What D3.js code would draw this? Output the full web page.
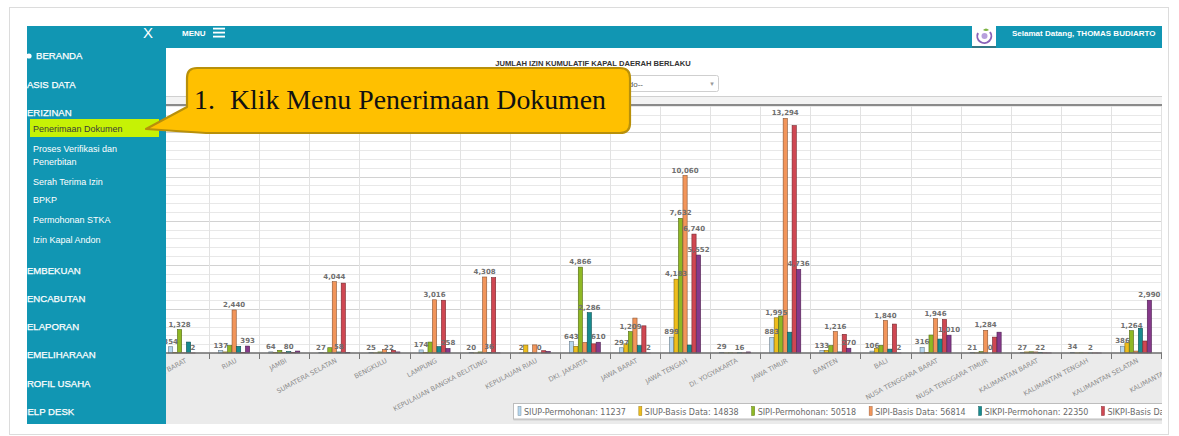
<!DOCTYPE html>
<html>
<head>
<meta charset="utf-8">
<script src="https://cdn.jsdelivr.net/npm/d3@7"></script>
<style>
  body { margin: 0; background: #fff; }
  svg { display: block; }
</style>
</head>
<body>
<script>
var W = 1179, H = 436;

// ---- data ----
var categories = ["SUMATERA BARAT", "RIAU", "JAMBI", "SUMATERA SELATAN", "BENGKULU", "LAMPUNG",
  "KEPULAUAN BANGKA BELITUNG", "KEPULAUAN RIAU", "DKI. JAKARTA", "JAWA BARAT", "JAWA TENGAH",
  "DI. YOGYAKARTA", "JAWA TIMUR", "BANTEN", "BALI", "NUSA TENGGARA BARAT", "NUSA TENGGARA TIMUR",
  "KALIMANTAN BARAT", "KALIMANTAN TENGAH", "KALIMANTAN SELATAN", "KALIMANTAN TIMUR"];

var seriesNames = ["SIUP-Permohonan", "SIUP-Basis Data", "SIPI-Permohonan", "SIPI-Basis Data",
  "SIKPI-Permohonan", "SIKPI-Basis Data", "SIKPI-Lainnya"];
var legendTotals = [11237, 14838, 50518, 56814, 22350, null, null];

var siupPermohonan  = [354, 137, 64, 27, 25, 174, 20, 2, 643, 297, 899, 29, 883, 133, 106, 316, 21, 27, 34, 386, 420];
var siupBasisData   = [40, 60, 20, 10, 10, 40, 5, 450, 380, 520, 4183, 5, 1995, 150, 250, 30, 10, 60, 5, 580, 300];
var sipiPermohonan  = [1328, 420, 150, 300, 60, 620, 60, 10, 4866, 1209, 7632, 10, 2100, 420, 430, 1020, 80, 70, 10, 1264, 900];
var sipiBasisData   = [10, 2440, 30, 4044, 200, 3016, 4308, 460, 600, 1980, 10060, 3, 13294, 1216, 1840, 1946, 1284, 60, 5, 110, 800];
var sikpiPermohonan = [620, 380, 80, 58, 22, 360, 36, 0, 2286, 420, 450, 16, 1180, 60, 220, 790, 0, 22, 2, 1400, 700];
var sikpiBasisData  = [2, 30, 20, 3960, 150, 2990, 4270, 130, 520, 1540, 6740, 8, 12890, 1060, 1640, 1900, 900, 10, 4, 680, 600];
var sikpiLainnya    = [0, 393, 110, 20, 60, 258, 10, 90, 610, 2, 5552, 60, 4736, 270, 2, 1010, 1180, 5, 2, 2990, 500];

// which bars carry a visible point label, per category
var labelled = [[0,2,5],[0,3,6],[0,4],[0,3,4],[0,4],[0,3,6],[0,3,4],[0,4],[0,2,4,6],[0,2,6],
  [0,1,2,3,5,6],[0,4],[0,1,3,6],[0,3,6],[0,3,6],[0,3,6],[0,3,4],[0,4],[0,4],[0,2,6],[]];

var allSeries = [siupPermohonan, siupBasisData, sipiPermohonan, sipiBasisData, sikpiPermohonan, sikpiBasisData, sikpiLainnya];
var colors = ["#b7d8f0", "#eebd1c", "#8fb824", "#f2955a", "#178b8f", "#cf4752", "#86398b"];

var sideMain = [
  { t: "BERANDA", y: 59, bullet: true },
  { t: "BASIS DATA", y: 88 },
  { t: "PERIZINAN", y: 116 },
  { t: "PEMBEKUAN", y: 274 },
  { t: "PENCABUTAN", y: 302 },
  { t: "PELAPORAN", y: 330 },
  { t: "PEMELIHARAAN", y: 358 },
  { t: "PROFIL USAHA", y: 387 },
  { t: "HELP DESK", y: 415 }
];
var sideSub = [
  { t: "Proses Verifikasi dan", y: 152 },
  { t: "Penerbitan", y: 165 },
  { t: "Serah Terima Izin", y: 185 },
  { t: "BPKP", y: 203 },
  { t: "Permohonan STKA", y: 223 },
  { t: "Izin Kapal Andon", y: 243 }
];

var teal = "#1196b3";
var fmt = d3.format(",");

var svg = d3.select("body").append("svg").attr("width", W).attr("height", H);

// slide frame
svg.append("rect").attr("x", 9.5).attr("y", 7.5).attr("width", 1159).attr("height", 427)
  .attr("fill", "#fff").attr("stroke", "#dcdcdc");

// ---- chart area ----
var defs = svg.append("defs");
defs.append("clipPath").attr("id", "chartClip").append("rect")
  .attr("x", 166).attr("y", 48).attr("width", 996).attr("height", 377);
defs.append("clipPath").attr("id", "headClip").append("rect")
  .attr("x", 27).attr("y", 26).attr("width", 1135).attr("height", 22);
defs.append("clipPath").attr("id", "sideClip").append("rect")
  .attr("x", 27).attr("y", 26).attr("width", 139).attr("height", 398);

var chart = svg.append("g").attr("clip-path", "url(#chartClip)");
chart.append("rect").attr("x", 166).attr("y", 48).attr("width", 996).attr("height", 377).attr("fill", "#fff");

chart.append("text").attr("x", 593).attr("y", 66).attr("text-anchor", "middle")
  .attr("font-family", "Liberation Sans, Arial, sans-serif").attr("font-weight", "bold")
  .attr("font-size", 7.6).attr("fill", "#333")
  .text("JUMLAH IZIN KUMULATIF KAPAL DAERAH BERLAKU");

// dropdown
chart.append("rect").attr("x", 468.5).attr("y", 75.5).attr("width", 250).attr("height", 16).attr("rx", 2)
  .attr("fill", "#fff").attr("stroke", "#cfcfcf");
chart.append("text").attr("x", 643).attr("y", 87).attr("text-anchor", "end")
  .attr("font-family", "Liberation Sans, Arial, sans-serif").attr("font-size", 8).attr("fill", "#555")
  .text("--Pilih Tahun Periodo--");
chart.append("text").attr("x", 712).attr("y", 86).attr("text-anchor", "middle")
  .attr("font-family", "DejaVu Sans, sans-serif").attr("font-size", 7).attr("fill", "#999").text("\u25BE");

// toolbar strip above plot
chart.append("rect").attr("x", 166).attr("y", 96).attr("width", 996).attr("height", 9).attr("fill", "#f3f3f3");
chart.append("line").attr("x1", 166).attr("x2", 1162).attr("y1", 96.5).attr("y2", 96.5).attr("stroke", "#d0d0d0");
chart.append("line").attr("x1", 166).attr("x2", 1162).attr("y1", 105).attr("y2", 105).attr("stroke", "#8a8a8a").attr("stroke-width", 2);

// scales
var x0 = d3.scaleBand().domain(categories).range([159, 159 + 50.1 * categories.length]);
var x1 = d3.scaleBand().domain(d3.range(seriesNames.length))
  .range([x0.bandwidth() * 0.19, x0.bandwidth() * 0.81]).paddingInner(0.06);
var y = d3.scaleLinear().domain([0, 14000]).range([353, 106]);

// grey x label band
chart.append("rect").attr("x", 166).attr("y", 353).attr("width", 996).attr("height", 71).attr("fill", "#ebebeb");

// grid
var grid = chart.append("g");
grid.selectAll("line.h").data(d3.range(500, 14001, 500)).enter().append("line")
  .attr("x1", 166).attr("x2", 1162)
  .attr("y1", function(d) { return Math.round(y(d)) + 0.5; })
  .attr("y2", function(d) { return Math.round(y(d)) + 0.5; })
  .attr("stroke", function(d) { return d % 2500 === 0 ? "#d2d2d2" : "#e8e8e8"; });
grid.selectAll("line.v").data(categories).enter().append("line")
  .attr("x1", function(d) { return Math.round(x0(d)) + 0.5; })
  .attr("x2", function(d) { return Math.round(x0(d)) + 0.5; })
  .attr("y1", 106).attr("y2", 353).attr("stroke", "#e2e2e2");

// bars
var groups = chart.append("g").selectAll("g").data(categories).enter().append("g")
  .attr("transform", function(d) { return "translate(" + x0(d) + ",0)"; });

groups.selectAll("rect").data(function(c, i) {
    return allSeries.map(function(s, k) { return { k: k, v: s[i] }; });
  }).enter().append("rect")
  .attr("x", function(d) { return x1(d.k); })
  .attr("width", x1.bandwidth())
  .attr("y", function(d) { return y(d.v); })
  .attr("height", function(d) { return y(0) - y(d.v); })
  .attr("fill", function(d) { return colors[d.k]; })
  .attr("stroke", function(d) { return d3.color(colors[d.k]).darker(1.6); })
  .attr("stroke-width", 0.6);

// point labels
groups.selectAll("text").data(function(c, i) {
    return labelled[i].map(function(k) { return { k: k, v: allSeries[k][i] }; });
  }).enter().append("text")
  .attr("x", function(d) { return x1(d.k) + x1.bandwidth() / 2; })
  .attr("y", function(d) { return y(d.v) - 3; })
  .attr("text-anchor", "middle")
  .attr("font-family", "DejaVu Sans, sans-serif").attr("font-weight", "bold")
  .attr("font-size", 7).attr("fill", "#6f6f6f")
  .text(function(d) { return fmt(d.v); });

// x axis
var xAxis = chart.append("g").attr("transform", "translate(0,353)")
  .call(d3.axisBottom(x0).tickSize(0).tickPadding(0));
xAxis.select(".domain").remove();
xAxis.selectAll("text")
  .attr("x", 0).attr("y", 0).attr("dy", 0)
  .attr("text-anchor", "end")
  .attr("transform", "translate(3,9) rotate(-28)")
  .attr("font-family", "DejaVu Sans, sans-serif").attr("font-size", 6.6).attr("fill", "#8c8c8c");

chart.append("line").attr("x1", 166).attr("x2", 1162).attr("y1", 353).attr("y2", 353)
  .attr("stroke", "#6d6d6d").attr("stroke-width", 1.5);
chart.selectAll("line.tk").data(categories).enter().append("line")
  .attr("x1", function(d) { return Math.round(x0(d)) + 0.5; })
  .attr("x2", function(d) { return Math.round(x0(d)) + 0.5; })
  .attr("y1", 353).attr("y2", 359).attr("stroke", "#777");

// legend
var lg = chart.append("g");
lg.append("rect").attr("x", 513.5).attr("y", 404.5).attr("width", 700).attr("height", 16)
  .attr("fill", "#d0d0d0");
lg.append("rect").attr("x", 513.5).attr("y", 403.5).attr("width", 700).attr("height", 15.5)
  .attr("fill", "#fff").attr("stroke", "#bdbdbd");
var lx = 518;
seriesNames.forEach(function(name, k) {
  lg.append("rect").attr("x", lx).attr("y", 406.5).attr("width", 3).attr("height", 9)
    .attr("fill", colors[k]).attr("stroke", d3.color(colors[k]).darker(1.2)).attr("stroke-width", 0.5);
  var t = lg.append("text").attr("x", lx + 6).attr("y", 414.5)
    .attr("font-family", "DejaVu Sans, sans-serif").attr("font-size", 8).attr("fill", "#6a6a6a")
    .text(legendTotals[k] != null ? name + ": " + legendTotals[k] : name);
  lx += 6 + t.node().getComputedTextLength() + 13;
});

// ---- header bar ----
var head = svg.append("g").attr("clip-path", "url(#headClip)");
head.append("rect").attr("x", 27).attr("y", 26).attr("width", 1135).attr("height", 22).attr("fill", teal);
head.append("text").attr("x", 148).attr("y", 38).attr("text-anchor", "middle")
  .attr("font-family", "Liberation Sans, Arial, sans-serif").attr("font-size", 15).attr("fill", "#fff").text("X");
head.append("text").attr("x", 182).attr("y", 36)
  .attr("font-family", "Liberation Sans, Arial, sans-serif").attr("font-weight", "bold")
  .attr("font-size", 8).attr("fill", "#fff").text("MENU");
[28.5, 32.5, 36.5].forEach(function(yy) {
  head.append("rect").attr("x", 213).attr("y", yy - 0.8).attr("width", 12).attr("height", 1.8).attr("fill", "#fff");
});
head.append("text").attr("x", 1012).attr("y", 36)
  .attr("font-family", "Liberation Sans, Arial, sans-serif").attr("font-weight", "bold")
  .attr("font-size", 8).attr("fill", "#fff")
  .text("Selamat Datang, THOMAS BUDIARTO");

// logo
svg.append("rect").attr("x", 972).attr("y", 45).attr("width", 24).attr("height", 3).attr("fill", "#555").attr("opacity", 0.5);
svg.append("rect").attr("x", 972).attr("y", 26).attr("width", 24).attr("height", 20).attr("fill", "#fff");
svg.append("path").attr("d", "M978,33 A7,7 0 1,0 990,32").attr("fill", "none")
  .attr("stroke", "#8a63b8").attr("stroke-width", 2);
svg.append("circle").attr("cx", 984.5).attr("cy", 36).attr("r", 3).attr("fill", "#b7a0dc");
svg.append("path").attr("d", "M983,30 Q986,27 989,30 Q986,32 983,30Z").attr("fill", "#7cb342");

// ---- sidebar ----
var side = svg.append("g").attr("clip-path", "url(#sideClip)");
side.append("rect").attr("x", 27).attr("y", 48).attr("width", 139).attr("height", 376).attr("fill", teal);

side.selectAll("text.main").data(sideMain).enter().append("text")
  .attr("x", function(d) { return d.bullet ? 36 : 20.5; })
  .attr("y", function(d) { return d.y; })
  .attr("font-family", "Liberation Sans, Arial, sans-serif").attr("font-size", 9.6)
  .attr("fill", "#fff").attr("stroke", "#fff").attr("stroke-width", 0.25)
  .text(function(d) { return d.t; });
side.append("circle").attr("cx", 29).attr("cy", 56).attr("r", 2.6).attr("fill", "#fff");

side.append("rect").attr("x", 30).attr("y", 119).attr("width", 129).attr("height", 18).attr("fill", "#c6f205");
side.append("text").attr("x", 33).attr("y", 131.5)
  .attr("font-family", "Liberation Sans, Arial, sans-serif").attr("font-size", 9)
  .attr("fill", "#3a3a3a").text("Penerimaan Dokumen");

side.selectAll("text.sub").data(sideSub).enter().append("text")
  .attr("x", 33).attr("y", function(d) { return d.y; })
  .attr("font-family", "Liberation Sans, Arial, sans-serif").attr("font-size", 9)
  .attr("fill", "#fff").text(function(d) { return d.t; });

// ---- callout ----
svg.append("path")
  .attr("d", "M197,68 H620 Q630,68 630,78 V123 Q630,133 620,133 H206 L146,129 L187,107 V78 Q187,68 197,68 Z")
  .attr("fill", "#ffc000").attr("stroke", "#b8900a").attr("stroke-width", 2.2).attr("stroke-linejoin", "round");
svg.append("text").attr("x", 194).attr("y", 109)
  .attr("font-family", "Liberation Serif, Times New Roman, serif").attr("font-size", 27.8)
  .attr("fill", "#111").text("1.");
svg.append("text").attr("x", 230).attr("y", 109)
  .attr("font-family", "Liberation Serif, Times New Roman, serif").attr("font-size", 27.8)
  .attr("fill", "#111").text("Klik Menu Penerimaan Dokumen");
</script>
</body>
</html>
